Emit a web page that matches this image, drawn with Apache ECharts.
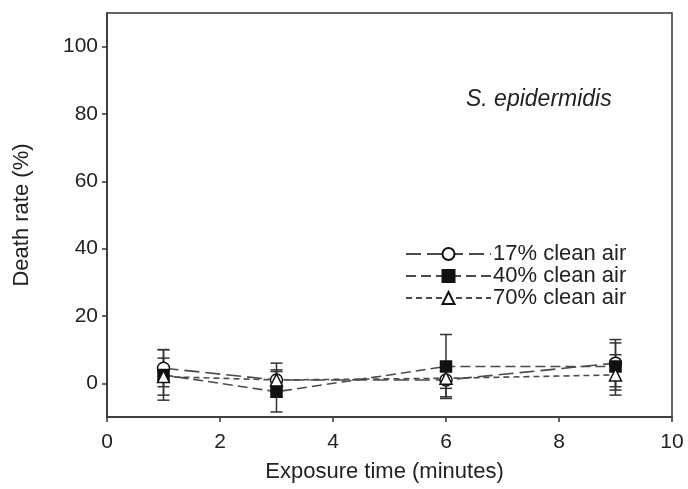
<!DOCTYPE html>
<html>
<head>
<meta charset="utf-8">
<script src="https://cdn.jsdelivr.net/npm/echarts@6/dist/echarts.min.js"></script>
<style>
  html, body { margin: 0; padding: 0; background: #fff; }
  #chart { width: 688px; height: 489px; }
</style>
</head>
<body>
<div id="chart"></div>
<script>
// Exposure times (minutes) at which the death rate was measured
const exposureMinutes = [1, 3, 6, 9];

// Mean death rate (%) and error (±) for each clean-air fraction
const seriesNames = ['17% clean air', '40% clean air', '70% clean air'];
const rate17 = [4.5, 1.0, 1.0, 6.0];
const err17 = [5.5, 3.0, 5.0, 7.0];
const rate40 = [2.5, -2.5, 5.0, 5.0];
const err40 = [7.5, 6.0, 9.5, 7.0];
const rate70 = [2.0, 1.0, 1.5, 2.5];
const err70 = [5.5, 5.0, 3.0, 6.0];

// Axis ticks
const xTicks = [0, 2, 4, 6, 8, 10];
const yTicks = [0, 20, 40, 60, 80, 100];

const rates = [rate17, rate40, rate70];
const errors = [err17, err40, err70];

const ink = '#222';
const axisInk = '#333';
const lineGray = '#4a4a4a';
const dashes = [[15, 6], [10, 5], [6, 4]];
const symbols = ['circle', 'rect', 'triangle'];
const fills = ['#fff', '#111', '#fff'];
const font = 'Liberation Sans';

const chart = echarts.init(document.getElementById('chart'), null, { renderer: 'canvas' });

function errorBarSeries(k) {
  const data = exposureMinutes.map((x, i) => [x, rates[k][i] - errors[k][i], rates[k][i] + errors[k][i]]);
  return {
    type: 'custom',
    z: 1,
    silent: true,
    data: data,
    encode: { x: 0, y: [1, 2] },
    renderItem: function (params, api) {
      const lo = api.coord([api.value(0), api.value(1)]);
      const hi = api.coord([api.value(0), api.value(2)]);
      const half = 6;
      const style = { stroke: axisInk, lineWidth: 1.5, fill: null };
      return {
        type: 'group',
        children: [
          { type: 'line', shape: { x1: lo[0], y1: lo[1], x2: hi[0], y2: hi[1] }, style: style },
          { type: 'line', shape: { x1: lo[0] - half, y1: lo[1], x2: lo[0] + half, y2: lo[1] }, style: style },
          { type: 'line', shape: { x1: hi[0] - half, y1: hi[1], x2: hi[0] + half, y2: hi[1] }, style: style }
        ]
      };
    }
  };
}

function lineSeries(k) {
  return {
    name: seriesNames[k],
    type: 'line',
    z: 3,
    data: exposureMinutes.map((x, i) => [x, rates[k][i]]),
    symbol: symbols[k],
    symbolSize: k === 1 ? 11 : 12,
    showSymbol: true,
    lineStyle: { color: lineGray, width: 1.6, type: dashes[k] },
    itemStyle: { color: fills[k], borderColor: '#111', borderWidth: 1.5 },
    emphasis: { disabled: true },
    animation: false
  };
}

const option = {
  animation: false,
  backgroundColor: '#fff',
  grid: {
    left: 107, right: 16, top: 13, bottom: 72,
    show: true, borderColor: axisInk, borderWidth: 1.5, backgroundColor: 'transparent'
  },
  xAxis: {
    type: 'value',
    min: 0, max: 10, interval: 2,
    name: 'Exposure time (minutes)',
    nameLocation: 'middle',
    nameGap: 44,
    nameTextStyle: { fontFamily: font, fontSize: 22, color: ink, padding: [0, 10, 0, 0] },
    axisLine: { show: true, onZero: false, lineStyle: { color: axisInk, width: 1.5 } },
    axisTick: { show: true, inside: false, length: 5, lineStyle: { color: axisInk, width: 1.5 } },
    axisLabel: {
      fontFamily: font, fontSize: 21, color: ink, margin: 15,
      customValues: xTicks
    },
    splitLine: { show: false }
  },
  yAxis: {
    type: 'value',
    min: -10, max: 110,
    name: 'Death rate (%)',
    nameLocation: 'middle',
    nameGap: 74,
    nameRotate: 90,
    nameTextStyle: { fontFamily: font, fontSize: 22, color: ink },
    axisLine: { show: true, onZero: false, lineStyle: { color: axisInk, width: 1.5 } },
    axisTick: { show: true, inside: false, length: 5, customValues: yTicks, lineStyle: { color: axisInk, width: 1.5 } },
    axisLabel: {
      fontFamily: font, fontSize: 21, color: ink, margin: 9,
      customValues: yTicks
    },
    splitLine: { show: false }
  },
  legend: {
    orient: 'vertical',
    left: 400,
    top: 238,
    itemWidth: 85,
    itemHeight: 15,
    itemGap: 0,
    padding: 5,
    selectedMode: false,
    textStyle: { fontFamily: font, fontSize: 22, lineHeight: 22, color: ink, padding: [0, 0, 0, -3] },
    data: seriesNames
  },
  graphic: [{
    type: 'text',
    left: 466,
    top: 88,
    style: {
      text: 'S. epidermidis',
      font: 'italic 23px "Liberation Sans"',
      fill: ink
    }
  }],
  series: [
    errorBarSeries(0), errorBarSeries(1), errorBarSeries(2),
    lineSeries(0), lineSeries(1), lineSeries(2)
  ]
};

chart.setOption(option);
</script>
</body>
</html>
